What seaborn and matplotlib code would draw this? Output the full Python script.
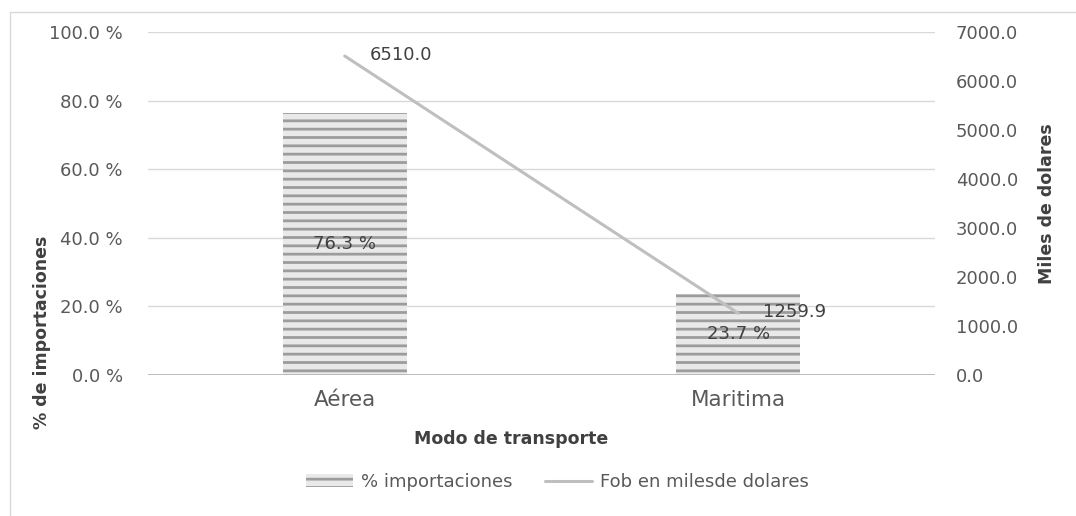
import numpy as np
import matplotlib
matplotlib.use('Agg')
import matplotlib.pyplot as plt
import seaborn as sns
from matplotlib.patches import Patch, Rectangle
from matplotlib.lines import Line2D

# Data
modos = ['Aérea', 'Maritima']
pct_importaciones = [76.3, 23.7]
fob_miles = [6510.0, 1259.9]

sns.set_style('white')
plt.rcParams['font.family'] = ['DejaVu Sans']
plt.rcParams['hatch.linewidth'] = 2.0

tick_col = '#595959'
text_col = '#404040'
hatch_col = '#9c9c9c'
fill_col = '#e9e9e9'

fig = plt.figure(figsize=(10.76, 5.16), dpi=100)
ax = fig.add_axes([148 / 1076, 141 / 516, 787 / 1076, 343 / 516])

# bars (% importaciones)
sns.barplot(x=modos, y=pct_importaciones, ax=ax, width=0.315,
            color=fill_col, linewidth=0, saturation=1)
for p in ax.patches:
    p.set_hatch('--')
    p.set_edgecolor(hatch_col)
    p.set_linewidth(0)
ax.bar_label(ax.containers[0], labels=[f'{v:.1f} %' for v in pct_importaciones],
             label_type='center', color=text_col, fontsize=13)

ax.set_xlim(-0.5, 1.5)
ax.set_ylim(0, 100)
ax.set_yticks(np.arange(0, 101, 20))
ax.set_yticklabels([f'{v:.1f} %' for v in np.arange(0, 101, 20)])
ax.grid(axis='y', color='#d9d9d9', linewidth=1)
ax.set_axisbelow(True)
for s in ax.spines.values():
    s.set_visible(False)
ax.axhline(0, color='#b5b5b5', linewidth=2, zorder=3)
ax.tick_params(axis='y', length=0, pad=18, labelsize=13, labelcolor=tick_col)
ax.tick_params(axis='x', length=0, pad=11, labelsize=15.5, labelcolor=tick_col)

ax.set_xlabel('Modo de transporte', fontsize=12.5, fontweight='bold', color=text_col)
ax.xaxis.set_label_coords(0.462, -0.187)
ax.xaxis.label.set_va('center')
ax.set_ylabel('% de importaciones', fontsize=12.5, fontweight='bold', color=text_col)
ax.yaxis.set_label_coords(-0.1347, 0.125)
ax.yaxis.label.set_va('center')

# line (Fob en miles de dolares)
ax2 = ax.twinx()
sns.lineplot(x=np.arange(len(modos)), y=fob_miles, ax=ax2, color='#bfbfbf',
             linewidth=2.2)
ax2.set_ylim(0, 7000)
ax2.set_yticks(np.arange(0, 7001, 1000))
ax2.set_yticklabels([f'{v:.1f}' for v in np.arange(0, 7001, 1000)])
for s in ax2.spines.values():
    s.set_visible(False)
ax2.tick_params(axis='y', length=0, pad=15, labelsize=13, labelcolor=tick_col)
ax2.set_ylabel('Miles de dolares', fontsize=12.5, fontweight='bold', color=text_col,
               rotation=90)
ax2.yaxis.set_label_coords(1.142, 0.501)
ax2.yaxis.label.set_va('center')
for i, v in enumerate(fob_miles):
    ax2.annotate(f'{v:.1f}', (i, v), xytext=(18, 1), textcoords='offset points',
                 ha='left', va='center', color=text_col, fontsize=13)

# legend
handles = [Patch(facecolor=fill_col, edgecolor=hatch_col, hatch='--', linewidth=0),
           Line2D([0], [0], color='#bfbfbf', linewidth=2.2)]
fig.legend(handles, ['% importaciones', 'Fob en milesde dolares'],
           loc='center', bbox_to_anchor=(0.518, 0.066), ncol=2, frameon=False,
           fontsize=13, labelcolor=tick_col, handlelength=2.6, handletextpad=0.45,
           columnspacing=1.8)

# outer chart frame
fig.add_artist(Rectangle((10 / 1076, -0.05), 1.2, 1.05 - 12 / 516,
                         transform=fig.transFigure, fill=False,
                         edgecolor='#d9d9d9', linewidth=1))

fig.savefig('out.png', dpi=100)
